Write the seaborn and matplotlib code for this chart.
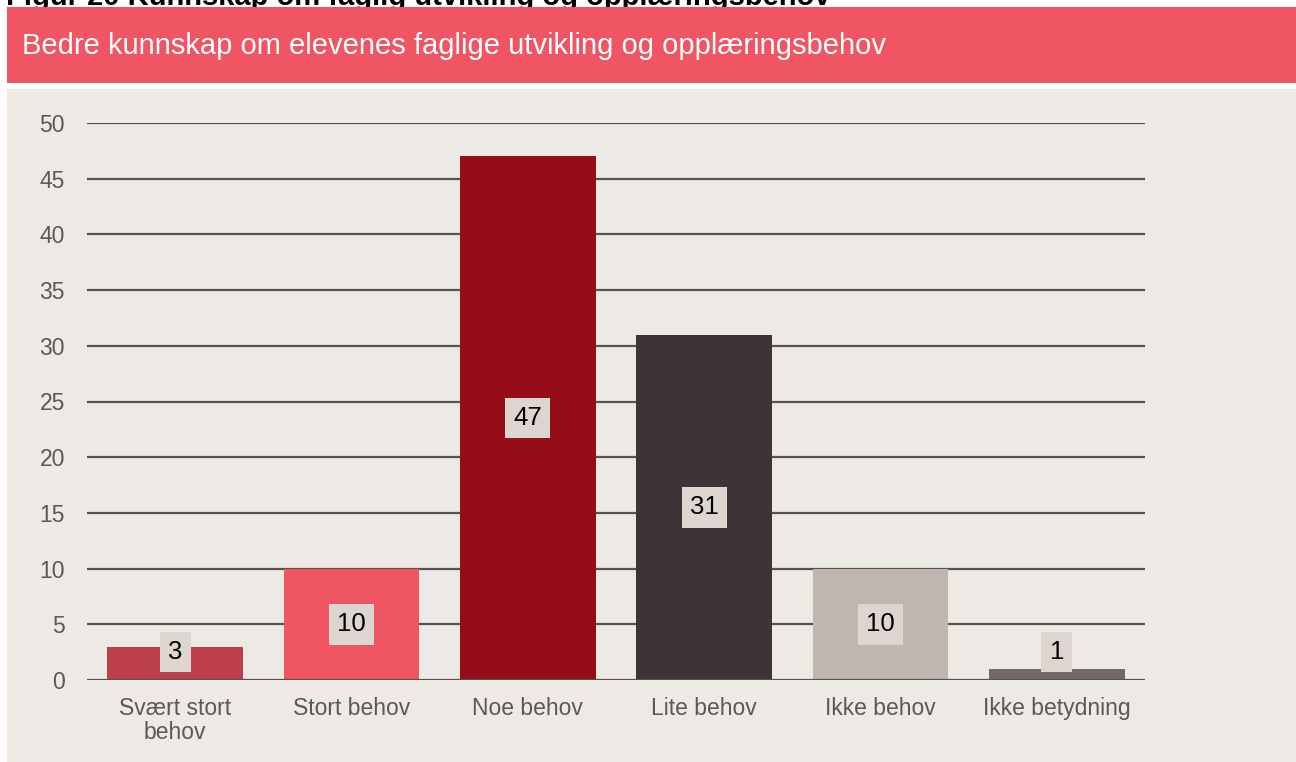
import matplotlib
matplotlib.use("Agg")
import matplotlib.pyplot as plt
import seaborn as sns
import pandas as pd
from matplotlib.patches import Rectangle

categories = ["Svært stort\nbehov", "Stort behov", "Noe behov", "Lite behov", "Ikke behov", "Ikke betydning"]
values = [3, 10, 47, 31, 10, 1]
colors = ["#BD3F4B", "#F05563", "#950D17", "#3E3337", "#C1B5B0", "#736769"]
yticks = [0, 5, 10, 15, 20, 25, 30, 35, 40, 45, 50]
title = "Figur 20 Kunnskap om faglig utvikling og opplæringsbehov"
subtitle = "Bedre kunnskap om elevenes faglige utvikling og opplæringsbehov"

sns.set_theme(style="white")
plt.rcParams["font.family"] = ["Liberation Sans", "DejaVu Sans"]

W, H = 1296, 762
fig = plt.figure(figsize=(W / 100, H / 100), dpi=100)
fig.patch.set_facecolor("white")

def fx(px):
    return px / W

def fy(py):
    return 1 - py / H

# grey panel
fig.patches.append(Rectangle((fx(7), 0), fx(1296 - 7), fy(89), transform=fig.transFigure,
                             facecolor="#EDE9E4", edgecolor="none", zorder=-5))
# title (cut at top)
fig.text(fx(6), fy(5), title, fontsize=21, fontweight="bold", color="black",
         ha="left", va="baseline", zorder=-4)
# red band
fig.patches.append(Rectangle((fx(7), fy(83)), fx(1296 - 7), (83 - 7) / H, transform=fig.transFigure,
                             facecolor="#F05563", edgecolor="none", zorder=-3))
fig.text(fx(22), fy(46), subtitle, fontsize=21, color="white", ha="left", va="center", zorder=-2)

ax = fig.add_axes([fx(87), fy(680), fx(1145 - 87), (680 - 123) / H])
ax.set_zorder(1)
ax.set_facecolor("none")
df = pd.DataFrame({"cat": categories, "val": values})
sns.barplot(data=df, x="cat", y="val", hue="cat", palette=colors, legend=False,
            width=0.77, saturation=1, linewidth=0, ax=ax, zorder=3)
ax.set_ylim(0, 50)
ax.set_xlim(-0.5, len(categories) - 0.5)
ax.set_yticks(yticks)
for y in yticks:
    ax.axhline(y, color="#5A5052", linewidth=1.6, zorder=2 if y > 0 else 4)
for s in ax.spines.values():
    s.set_visible(False)
ax.tick_params(axis="y", length=0, pad=16, labelsize=16.5, labelcolor="#595959")
ax.tick_params(axis="x", length=0, pad=12, labelsize=16.5, labelcolor="#595959")
ax.set_xlabel("")
ax.set_ylabel("")
for lbl in ax.get_yticklabels():
    lbl.set_ha("right")
for lbl in ax.get_xticklabels():
    lbl.set_linespacing(1.1)

for i, v in enumerate(values):
    ypos = max(v / 2, 2.5)
    ax.text(i, ypos, str(v), ha="center", va="center", fontsize=18.5, color="black", zorder=6,
            bbox=dict(boxstyle="square,pad=0.32", facecolor="#DCD5D0", edgecolor="none"))

fig.savefig("out.png", dpi=100, facecolor=fig.get_facecolor())
